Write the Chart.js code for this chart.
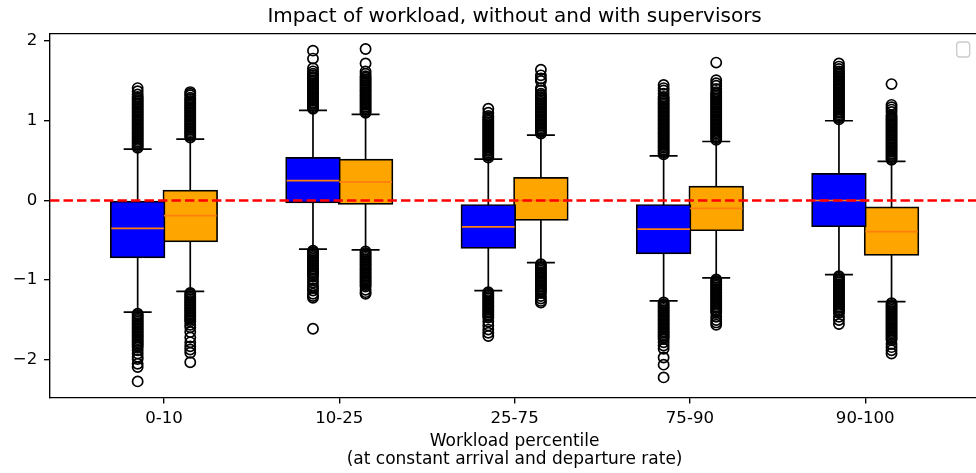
<!DOCTYPE html>
<html><head><meta charset="utf-8">
<script src="https://cdn.jsdelivr.net/npm/chart.js@4.4.1/dist/chart.umd.min.js"></script>
<style>
html,body{margin:0;padding:0;background:#fff;overflow:hidden;width:976px;height:473px;}
#wrap{position:absolute;left:0;top:0;width:986px;height:473px;}
</style></head><body>
<div id="wrap"><canvas id="c" width="986" height="473"></canvas></div>
<script>
// ---- data ----
const categories = ['0-10', '10-25', '25-75', '75-90', '90-100'];
const seriesNames = ['without supervisors', 'with supervisors'];
const yTickValues = [-2, -1, 0, 1, 2];
const referenceValue = 0;

// without supervisors (blue)
const q1Without = [-0.72, -0.03, -0.60, -0.67, -0.33];
const medianWithout = [-0.35, 0.25, -0.33, -0.36, 0.00];
const q3Without = [0.00, 0.54, -0.05, -0.05, 0.34];
const lowWhiskerWithout = [-1.40, -0.61, -1.13, -1.26, -0.93];
const highWhiskerWithout = [0.645, 1.13, 0.52, 0.56, 1.00];

// with supervisors (orange)
const q1With = [-0.52, -0.05, -0.25, -0.38, -0.69];
const medianWith = [-0.19, 0.23, 0.00, -0.10, -0.39];
const q3With = [0.13, 0.52, 0.29, 0.18, -0.08];
const lowWhiskerWith = [-1.14, -0.62, -0.78, -0.97, -1.27];
const highWhiskerWith = [0.77, 1.08, 0.82, 0.74, 0.49];

const fliersWithout = [
  [0.66,0.68,0.70,0.72,0.74,0.76,0.78,0.80,0.82,0.84,0.86,0.88,0.90,0.92,0.94,0.96,0.98,1.00,1.02,1.04,1.06,1.08,1.10,1.12,1.14,1.16,1.18,1.20,1.22,1.24,1.26,1.28,1.30,1.33,1.37,1.41,
   -1.42,-1.44,-1.46,-1.48,-1.50,-1.52,-1.54,-1.56,-1.58,-1.60,-1.62,-1.64,-1.66,-1.68,-1.70,-1.72,-1.74,-1.76,-1.78,-1.80,-1.82,-1.84,-1.88,-1.92,-1.96,-1.99,-2.05,-2.09,-2.27],
  [1.15,1.17,1.19,1.21,1.23,1.25,1.27,1.29,1.31,1.33,1.35,1.37,1.39,1.41,1.43,1.45,1.47,1.49,1.51,1.53,1.55,1.57,1.59,1.62,1.66,1.78,1.88,
   -0.63,-0.65,-0.67,-0.69,-0.71,-0.73,-0.75,-0.77,-0.79,-0.81,-0.83,-0.85,-0.87,-0.89,-0.91,-0.93,-0.95,-0.99,-1.03,-1.07,-1.10,-1.13,-1.17,-1.20,-1.22,-1.61],
  [0.54,0.56,0.58,0.60,0.62,0.64,0.66,0.68,0.70,0.72,0.74,0.76,0.78,0.80,0.82,0.84,0.86,0.88,0.90,0.92,0.94,0.96,0.98,1.00,1.02,1.04,1.06,1.10,1.15,
   -1.15,-1.17,-1.19,-1.21,-1.23,-1.25,-1.27,-1.29,-1.31,-1.33,-1.35,-1.37,-1.39,-1.41,-1.43,-1.45,-1.47,-1.52,-1.57,-1.62,-1.66,-1.70],
  [0.58,0.60,0.62,0.64,0.66,0.68,0.70,0.72,0.74,0.76,0.78,0.80,0.82,0.84,0.86,0.88,0.90,0.92,0.94,0.96,0.98,1.00,1.02,1.04,1.06,1.08,1.10,1.12,1.14,1.16,1.18,1.20,1.22,1.24,1.26,1.28,1.30,1.34,1.38,1.41,1.45,
   -1.28,-1.30,-1.32,-1.34,-1.36,-1.38,-1.40,-1.42,-1.44,-1.46,-1.48,-1.50,-1.52,-1.54,-1.56,-1.58,-1.60,-1.62,-1.64,-1.66,-1.68,-1.70,-1.72,-1.74,-1.78,-1.82,-1.86,-1.97,-2.06,-2.22],
  [1.02,1.04,1.06,1.08,1.10,1.12,1.14,1.16,1.18,1.20,1.22,1.24,1.26,1.28,1.30,1.32,1.34,1.36,1.38,1.40,1.42,1.44,1.46,1.48,1.50,1.52,1.54,1.56,1.58,1.60,1.62,1.65,1.68,1.72,
   -0.95,-0.97,-0.99,-1.01,-1.03,-1.05,-1.07,-1.09,-1.11,-1.13,-1.15,-1.17,-1.19,-1.21,-1.23,-1.25,-1.27,-1.29,-1.31,-1.33,-1.35,-1.37,-1.39,-1.41,-1.46,-1.50,-1.55]
];

const fliersWith = [
  [0.79,0.81,0.83,0.85,0.87,0.89,0.91,0.93,0.95,0.97,0.99,1.01,1.03,1.05,1.07,1.09,1.11,1.13,1.15,1.17,1.19,1.21,1.23,1.25,1.27,1.29,1.32,1.34,1.36,
   -1.16,-1.18,-1.20,-1.22,-1.24,-1.26,-1.28,-1.30,-1.32,-1.34,-1.36,-1.38,-1.40,-1.42,-1.44,-1.46,-1.48,-1.50,-1.52,-1.56,-1.59,-1.65,-1.72,-1.78,-1.83,-1.87,-1.91,-2.03],
  [1.10,1.12,1.14,1.16,1.18,1.20,1.22,1.24,1.26,1.28,1.30,1.32,1.34,1.36,1.38,1.40,1.42,1.44,1.46,1.48,1.50,1.52,1.54,1.56,1.59,1.62,1.72,1.90,
   -0.64,-0.66,-0.68,-0.70,-0.72,-0.74,-0.76,-0.78,-0.80,-0.82,-0.84,-0.86,-0.88,-0.90,-0.92,-0.94,-0.96,-0.98,-1.00,-1.02,-1.04,-1.06,-1.08,-1.12,-1.15,-1.17],
  [0.84,0.86,0.88,0.90,0.92,0.94,0.96,0.98,1.00,1.02,1.04,1.06,1.08,1.10,1.12,1.14,1.16,1.18,1.20,1.22,1.24,1.26,1.28,1.30,1.32,1.34,1.38,1.41,1.50,1.53,1.57,1.64,
   -0.80,-0.82,-0.84,-0.86,-0.88,-0.90,-0.92,-0.94,-0.96,-0.98,-1.00,-1.02,-1.04,-1.06,-1.08,-1.10,-1.12,-1.14,-1.16,-1.20,-1.23,-1.26,-1.28],
  [0.76,0.78,0.80,0.82,0.84,0.86,0.88,0.90,0.92,0.94,0.96,0.98,1.00,1.02,1.04,1.06,1.08,1.10,1.12,1.14,1.16,1.18,1.20,1.22,1.24,1.26,1.28,1.30,1.32,1.34,1.36,1.40,1.44,1.47,1.51,1.73,
   -0.99,-1.01,-1.03,-1.05,-1.07,-1.09,-1.11,-1.13,-1.15,-1.17,-1.19,-1.21,-1.23,-1.25,-1.27,-1.29,-1.31,-1.33,-1.35,-1.37,-1.39,-1.41,-1.46,-1.50,-1.53,-1.56],
  [0.51,0.53,0.55,0.57,0.59,0.61,0.63,0.65,0.67,0.69,0.71,0.73,0.75,0.77,0.79,0.81,0.83,0.85,0.87,0.89,0.91,0.93,0.95,0.97,0.99,1.01,1.03,1.05,1.07,1.11,1.14,1.17,1.20,1.46,
   -1.29,-1.31,-1.33,-1.35,-1.37,-1.39,-1.41,-1.43,-1.45,-1.47,-1.49,-1.51,-1.53,-1.55,-1.57,-1.59,-1.61,-1.63,-1.65,-1.67,-1.69,-1.71,-1.73,-1.75,-1.80,-1.84,-1.88,-1.92]
];

// ---- layout / style constants ----
const X_MIN = -0.65, X_MAX = 4.65, Y_MIN = -2.472, Y_MAX = 2.095;
const OFFSET = 0.15;      // box centre offset from category
const HALF = 0.15;        // half box width (axis units)
const CAP = 0.075;        // half cap width (axis units)
const LW = 1.7;

function boxData(q1, q3, off) {
  return categories.map((c, i) => ({ x: i + off, y: [q1[i], q3[i]] }));
}
function whiskerData(q1, q3, lo, hi, off) {
  const d = [];
  categories.forEach((c, i) => {
    const x = i + off;
    d.push({x, y: q3[i]}, {x, y: hi[i]}, {x, y: null});
    d.push({x, y: q1[i]}, {x, y: lo[i]}, {x, y: null});
    d.push({x: x - CAP, y: hi[i]}, {x: x + CAP, y: hi[i]}, {x, y: null});
    d.push({x: x - CAP, y: lo[i]}, {x: x + CAP, y: lo[i]}, {x, y: null});
  });
  return d;
}
function medianData(med, off) {
  const d = [];
  categories.forEach((c, i) => {
    const x = i + off;
    d.push({x: x - HALF, y: med[i]}, {x: x + HALF, y: med[i]}, {x, y: null});
  });
  return d;
}
function flierData(fl, off) {
  return fl.flatMap((vals, i) => vals.map(v => ({ x: i + off, y: v })));
}

const lineBase = { type: 'line', pointRadius: 0, pointHoverRadius: 0, tension: 0, spanGaps: false, fill: false };
const flierBase = { type: 'scatter', pointStyle: 'circle', pointRadius: 5.1, pointHoverRadius: 5.1,
  pointBorderWidth: LW, pointBorderColor: '#000', pointBackgroundColor: 'rgba(0,0,0,0)', order: 2 };

const legendFrame = {
  id: 'legendFrame',
  afterDraw(chart) {
    const { ctx, chartArea: a } = chart;
    const r = a.right - 9.5, t = a.top + 8.5;
    ctx.save();
    ctx.beginPath();
    ctx.roundRect(r - 13, t, 13, 15, 3);
    ctx.fillStyle = 'rgba(255,255,255,0.8)';
    ctx.fill();
    ctx.strokeStyle = '#cccccc';
    ctx.lineWidth = 1.36;
    ctx.stroke();
    ctx.restore();
  }
};

Chart.defaults.font.family = '"DejaVu Sans", sans-serif';
Chart.defaults.color = '#000';

new Chart(document.getElementById('c'), {
  type: 'bar',
  data: {
    datasets: [
      Object.assign({}, lineBase, { label: seriesNames[0] + ' whiskers', data: whiskerData(q1Without, q3Without, lowWhiskerWithout, highWhiskerWithout, -OFFSET), borderColor: '#000', borderWidth: LW, borderCapStyle: 'square', order: 6 }),
      Object.assign({}, lineBase, { label: seriesNames[1] + ' whiskers', data: whiskerData(q1With, q3With, lowWhiskerWith, highWhiskerWith, OFFSET), borderColor: '#000', borderWidth: LW, borderCapStyle: 'square', order: 6 }),
      { type: 'bar', label: seriesNames[0], data: boxData(q1Without, q3Without, -OFFSET), backgroundColor: '#0000ff', borderColor: '#000', borderWidth: LW, borderSkipped: false, grouped: false, barThickness: 54.7, order: 5 },
      { type: 'bar', label: seriesNames[1], data: boxData(q1With, q3With, OFFSET), backgroundColor: '#ffa500', borderColor: '#000', borderWidth: LW, borderSkipped: false, grouped: false, barThickness: 54.7, order: 5 },
      Object.assign({}, lineBase, { label: 'median ' + seriesNames[0], data: medianData(medianWithout, -OFFSET), borderColor: '#ff7f0e', borderWidth: LW, order: 4 }),
      Object.assign({}, lineBase, { label: 'median ' + seriesNames[1], data: medianData(medianWith, OFFSET), borderColor: '#ff7f0e', borderWidth: LW, order: 4 }),
      Object.assign({}, lineBase, { label: 'zero', data: [{x: X_MIN, y: referenceValue}, {x: X_MAX, y: referenceValue}], borderColor: '#ff0000', borderWidth: 2.5, borderDash: [9.4, 4.1], order: 3 }),
      Object.assign({}, flierBase, { label: 'fliers ' + seriesNames[0], data: flierData(fliersWithout, -OFFSET) }),
      Object.assign({}, flierBase, { label: 'fliers ' + seriesNames[1], data: flierData(fliersWith, OFFSET) })
    ]
  },
  options: {
    responsive: false,
    animation: false,
    devicePixelRatio: 1,
    layout: { padding: 0 },
    plugins: {
      legend: { display: false },
      tooltip: { enabled: false },
      title: { display: true, text: 'Impact of workload, without and with supervisors', fullSize: false,
        font: { size: 20, weight: 'normal', lineHeight: 1.2 }, color: '#000', padding: { top: 5, bottom: 4.5 } }
    },
    scales: {
      x: {
        type: 'linear', position: 'bottom', min: X_MIN, max: X_MAX, offset: false,
        afterBuildTicks: s => { s.ticks = categories.map((c, i) => ({ value: i })); },
        afterFit: s => { s.height = 75.5; },
        ticks: { callback: v => (categories[v] !== undefined ? categories[v] : ''), font: { size: 16.6, lineHeight: 1.2 }, color: '#000', padding: 4.8, maxRotation: 0, autoSkip: false },
        grid: { display: true, offset: false, drawOnChartArea: false, drawTicks: true, tickLength: 6, tickWidth: 1.36, tickColor: '#000', color: '#000', lineWidth: 1.36 },
        border: { display: true, color: '#000', width: 1.36 },
        title: { display: true, text: ['Workload percentile', '(at constant arrival and departure rate)'], font: { size: 17, lineHeight: 1.02 }, color: '#000', padding: { top: 0, bottom: 5 } }
      },
      x2: {
        type: 'linear', position: 'top', min: X_MIN, max: X_MAX, offset: false,
        afterBuildTicks: s => { s.ticks = []; },
        afterFit: s => { s.height = 0; },
        ticks: { display: false },
        grid: { display: false },
        border: { display: true, color: '#000', width: 1.36 }
      },
      y: {
        type: 'linear', position: 'left', min: Y_MIN, max: Y_MAX,
        afterBuildTicks: s => { s.ticks = yTickValues.map(v => ({ value: v })); },
        afterFit: s => { s.width = 50; },
        ticks: { callback: v => (v < 0 ? '\u2212' + Math.abs(v) : String(v)), font: { size: 16.6, lineHeight: 1.2 }, color: '#000', padding: 6.7 },
        grid: { display: true, drawOnChartArea: false, drawTicks: true, tickLength: 6, tickWidth: 1.36, tickColor: '#000', color: '#000', lineWidth: 1.36 },
        border: { display: true, color: '#000', width: 1.36 }
      }
    }
  },
  plugins: [legendFrame]
});
</script>
</body></html>
